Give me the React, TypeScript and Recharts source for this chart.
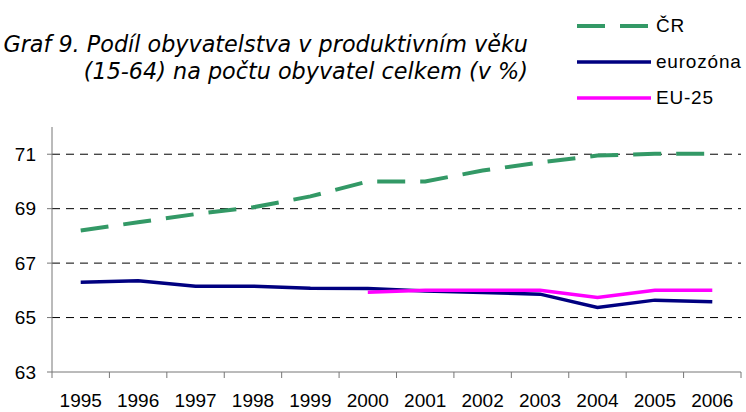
import { CartesianGrid, Line, LineChart, XAxis, YAxis } from "recharts"

const years = [1995, 1996, 1997, 1998, 1999, 2000, 2001, 2002, 2003, 2004, 2005, 2006]
const cr = [68.2, 68.5, 68.8, 69.05, 69.45, 70.0, 70.0, 70.4, 70.7, 70.95, 71.02, 71.02]
const eurozona = [66.3, 66.35, 66.15, 66.15, 66.08, 66.07, 65.98, 65.92, 65.86, 65.37, 65.64, 65.58]
const eu25 = [null, null, null, null, null, 65.93, 66.0, 66.0, 66.0, 65.74, 66.0, 66.0]
const yTicks = [63, 65, 67, 69, 71]
const gridValues = [65, 67, 69, 71]
const boundaryTicks = [1994.5, 1995.5, 1996.5, 1997.5, 1998.5, 1999.5, 2000.5, 2001.5, 2002.5, 2003.5, 2004.5, 2005.5, 2006.5]

const titleLines = ["Graf 9. Podíl obyvatelstva v produktivním věku", "(15-64) na počtu obyvatel celkem (v %)"]

const series = [
  { key: "cr", name: "ČR", color: "#339966", width: 4, dash: "28 15" },
  { key: "eurozona", name: "eurozóna", color: "#000080", width: 3.5, dash: undefined },
  { key: "eu25", name: "EU-25", color: "#FF00FF", width: 3.5, dash: undefined },
]

const data = years.map((y, i) => ({
  year: y,
  cr: cr[i],
  eurozona: eurozona[i],
  eu25: eu25[i],
}))

const tickFont = { fontFamily: "'Liberation Sans', Arial, sans-serif", fontSize: 19, fill: "#000" }

function LegendBox() {
  return (
    <div
      style={{
        position: "absolute",
        left: 577,
        top: 8,
        fontFamily: "'Liberation Sans', Arial, sans-serif",
        fontSize: 19,
        letterSpacing: 0.8,
      }}
    >
      {series.map((s) => (
        <div key={s.key} style={{ display: "flex", alignItems: "center", height: 36 }}>
          <svg width={79} height={8} style={{ display: "block" }}>
            <line x1={0} y1={4} x2={74} y2={4} stroke={s.color} strokeWidth={s.width} strokeDasharray={s.dash} />
          </svg>
          <span>{s.name}</span>
        </div>
      ))}
    </div>
  )
}

export default function App() {
  return (
    <div style={{ position: "fixed", left: 0, top: 0, width: 746, height: 412, background: "#fff", overflow: "hidden" }}>
      <div
        style={{
          position: "absolute",
          right: 746 - 528,
          top: 31,
          textAlign: "right",
          whiteSpace: "pre",
          fontFamily: "'DejaVu Sans', Verdana, sans-serif",
          fontStyle: "italic",
          fontSize: 22.3,
          lineHeight: "27px",
          color: "#000",
        }}
      >
        {titleLines.map((t) => (
          <div key={t}>{t}</div>
        ))}
      </div>
      <LegendBox />
      <LineChart width={746} height={412} data={data} margin={{ top: 127, right: 5, left: 0, bottom: 0 }}>
        <CartesianGrid
          vertical={false}
          stroke="#000"
          strokeDasharray="8 6"
          horizontalValues={gridValues}
        />
        <XAxis
          xAxisId="a_marks"
          dataKey="year"
          type="number"
          domain={[1994.5, 2006.5]}
          ticks={boundaryTicks}
          tickFormatter={() => ""}
          tickSize={6}
          height={6}
          stroke="#777"
        />
        <XAxis
          xAxisId="b_labels"
          dataKey="year"
          type="number"
          domain={[1994.5, 2006.5]}
          ticks={years}
          axisLine={false}
          tickLine={false}
          tickSize={0}
          tickMargin={16}
          height={34}
          tick={tickFont}
          interval={0}
        />
        <YAxis
          domain={[63, 72]}
          ticks={yTicks}
          width={52}
          tickSize={5}
          tickMargin={11}
          stroke="#777"
          tick={tickFont}
          interval={0}
        />
        {series.map((s) => (
          <Line
            key={s.key}
            xAxisId="a_marks"
            dataKey={s.key}
            name={s.name}
            stroke={s.color}
            strokeWidth={s.width}
            strokeDasharray={s.dash}
            dot={false}
            activeDot={false}
            type="linear"
            isAnimationActive={false}
          />
        ))}
      </LineChart>
    </div>
  )
}
